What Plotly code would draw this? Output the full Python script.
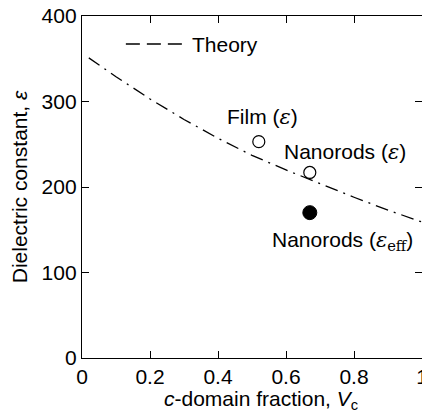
import plotly.graph_objects as go

# Theory curve
theory_x = [0.02, 0.1, 0.2, 0.3, 0.4, 0.5, 0.6, 0.7, 0.8, 0.9, 1.0]
theory_y = [351, 329, 303, 279, 257, 237, 220, 204, 188, 173, 159]

# Measured points
film_x = [0.52]
film_y = [253]
rods_x = [0.67]
rods_y = [217]
rods_eff_x = [0.67]
rods_eff_y = [170]

x_ticks = [0, 0.2, 0.4, 0.6, 0.8, 1]
x_tick_text = ["0", "0.2", "0.4", "0.6", "0.8", "1"]
y_ticks = [0, 100, 200, 300, 400]

FONT = "Liberation Sans, Arial, sans-serif"
SERIF = "DejaVu Serif, Liberation Serif, serif"
EPS = "<span style='font-family:%s'><i>ε</i></span>" % SERIF
FS = 21

fig = go.Figure()
fig.add_trace(go.Scatter(
    x=theory_x, y=theory_y, mode="lines",
    line=dict(color="black", width=1.3, dash="13px,6px,2px,6px"),
    showlegend=False, hoverinfo="skip"))
fig.add_trace(go.Scatter(
    x=film_x + rods_x, y=film_y + rods_y, mode="markers",
    marker=dict(symbol="circle", size=12, color="white",
                line=dict(color="black", width=1.2)),
    showlegend=False))
fig.add_trace(go.Scatter(
    x=rods_eff_x, y=rods_eff_y, mode="markers",
    marker=dict(symbol="circle", size=14, color="black",
                line=dict(color="black", width=1)),
    showlegend=False))

ann_font = dict(family=FONT, size=FS, color="black")
fig.add_annotation(x=0.53, y=282, xref="x", yref="y", showarrow=False,
                   text="Film (" + EPS + ")", font=ann_font)
fig.add_annotation(x=0.774, y=241, xref="x", yref="y", showarrow=False,
                   text="Nanorods (" + EPS + ")", font=ann_font)
fig.add_annotation(x=0.765, y=137, xref="x", yref="y", showarrow=False,
                   text="Nanorods (<span style='font-family:%s'><i>ε</i><sub>eff</sub></span>)" % SERIF,
                   font=ann_font)

# Legend (drawn manually)
fig.add_shape(type="line", xref="paper", yref="paper",
              x0=0.129, x1=0.294, y0=0.918, y1=0.918,
              line=dict(color="black", width=1.5, dash="14px,7px"))
fig.add_annotation(x=0.318, y=0.918, xref="paper", yref="paper",
                   xanchor="left", yanchor="middle", showarrow=False,
                   text="Theory", font=ann_font)

# x-axis title placed as annotation (slightly right of centre, as in the reference)
fig.add_annotation(x=0.526, y=-0.123, xref="paper", yref="paper",
                   xanchor="center", yanchor="middle", showarrow=False,
                   text="<i>c</i>-domain fraction, <i>V</i><sub>c</sub>",
                   font=ann_font)

axis_common = dict(
    showline=True, linecolor="black", linewidth=1.3, mirror="ticks",
    ticks="inside", ticklen=7, tickwidth=1.2, tickcolor="black",
    showgrid=False, zeroline=False,
    tickfont=dict(family=FONT, size=FS, color="black"),
)
fig.update_xaxes(range=[0, 1], tickvals=x_ticks, ticktext=x_tick_text,
                 ticklabeloverflow="allow",
                 automargin=False, **axis_common)
fig.update_yaxes(range=[0, 400], tickvals=y_ticks,
                 title=dict(text="Dielectric constant, <i>ε</i>",
                            font=dict(family=FONT, size=FS, color="black"),
                            standoff=8),
                 automargin=False, **axis_common)

fig.update_layout(
    width=422, height=416,
    margin=dict(l=82, r=0, t=16, b=58),
    paper_bgcolor="white", plot_bgcolor="white",
    showlegend=False,
)
fig.write_html("out.html")
